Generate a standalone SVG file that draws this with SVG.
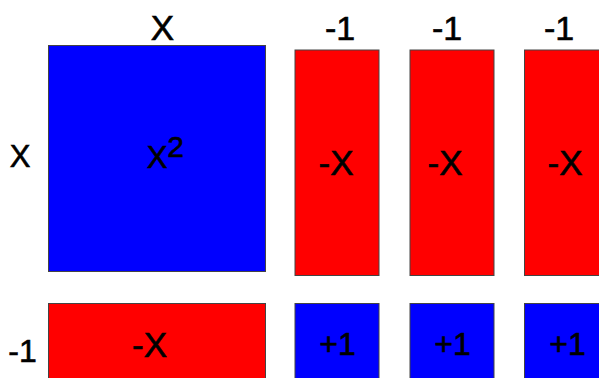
<svg xmlns="http://www.w3.org/2000/svg" width="599" height="378" viewBox="0 0 599 378">
<style>
.t{font-family:"Liberation Sans",Arial,sans-serif;fill:#000;stroke:#000;stroke-width:0.6;text-anchor:middle}
.b{fill:#0000ff;stroke:#444;stroke-width:1}
.r{fill:#ff0000;stroke:#444;stroke-width:1}
</style>
<rect width="599" height="378" fill="#fff"/>
<g id="labels">
<text class="t" x="162.5" y="40" font-size="35">X</text>
<text class="t" x="20" y="167" font-size="31">X</text>
<text class="t" x="340" y="40" font-size="34">-1</text>
<text class="t" x="447" y="40" font-size="34">-1</text>
<text class="t" x="559" y="40" font-size="34">-1</text>
<text class="t" x="22.5" y="362" font-size="32">-1</text>
</g>
<g id="x2">
<rect class="b" x="48.5" y="45.5" width="217" height="226"/>
<text class="t" x="157" y="168" font-size="31">X</text>
<text class="t" x="175.5" y="157" font-size="30">2</text>
</g>
<g id="negx1">
<rect class="r" x="295" y="50" width="84" height="225.5"/>
<text class="t" x="336" y="175" font-size="35">-X</text>
</g>
<g id="negx2">
<rect class="r" x="410" y="50" width="84" height="225.5"/>
<text class="t" x="445" y="175" font-size="35">-X</text>
</g>
<g id="negx3">
<rect class="r" x="524.5" y="50" width="84" height="225.5"/>
<text class="t" x="565" y="175" font-size="35">-X</text>
</g>
<g id="negx4">
<rect class="r" x="48.5" y="303.5" width="217" height="90"/>
<text class="t" x="149.5" y="357" font-size="35">-X</text>
</g>
<g id="one1">
<rect class="b" x="295" y="303.5" width="84" height="90"/>
<text class="t" x="337.5" y="355" font-size="32">+1</text>
</g>
<g id="one2">
<rect class="b" x="410" y="303.5" width="84" height="90"/>
<text class="t" x="452.5" y="355" font-size="32">+1</text>
</g>
<g id="one3">
<rect class="b" x="524.5" y="303.5" width="84" height="90"/>
<text class="t" x="567.5" y="355" font-size="32">+1</text>
</g>
<g id="connectors"></g>
</svg>
